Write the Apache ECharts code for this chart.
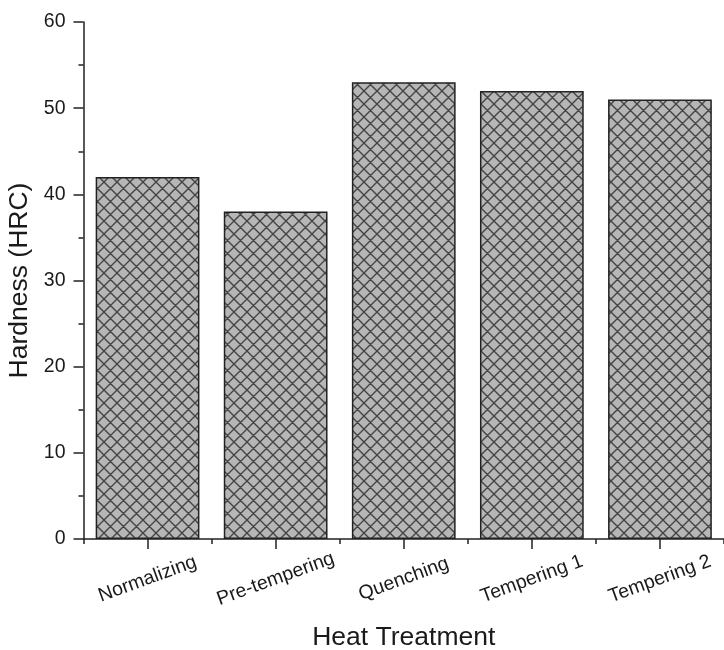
<!DOCTYPE html>
<html>
<head>
<meta charset="utf-8">
<script src="https://cdn.jsdelivr.net/npm/echarts@6/dist/echarts.min.js"></script>
<style>html,body{margin:0;padding:0;background:#fff}#c{width:724px;height:650px}</style>
</head>
<body>
<div id="c"></div>
<script>
const categories = ['Normalizing', 'Pre-tempering', 'Quenching', 'Tempering 1', 'Tempering 2'];
const hardness = [42, 38, 53, 52, 51];
const yTicks = { min: 0, max: 60, interval: 10 };

function makePattern() {
  const s = 13;
  const c = document.createElement('canvas');
  c.width = s; c.height = s;
  const g = c.getContext('2d');
  g.fillStyle = '#b6b6b6';
  g.fillRect(0, 0, s, s);
  g.strokeStyle = '#444';
  g.lineWidth = 1.4;
  g.beginPath();
  for (const o of [-s, 0, s]) {
    g.moveTo(o - 2, -2); g.lineTo(o + s + 2, s + 2);
    g.moveTo(o + s + 2, -2); g.lineTo(o - 2, s + 2);
  }
  g.stroke();
  return c;
}

const axisColor = '#222';
const font = 'Liberation Sans, Arial, sans-serif';
const chart = echarts.init(document.getElementById('c'));
chart.setOption({
  animation: false,
  backgroundColor: '#fff',
  textStyle: { fontFamily: font },
  grid: { left: 83.5, right: 0, top: 22, bottom: 111, containLabel: false, outerBoundsMode: 'none' },
  xAxis: [{
    type: 'category',
    data: categories,
    position: 'bottom',
    name: 'Heat Treatment',
    nameLocation: 'middle',
    nameGap: 85,
    nameTextStyle: { fontSize: 26.5, color: '#1a1a1a', fontFamily: font },
    axisLine: { show: true, lineStyle: { color: axisColor, width: 1.5 } },
    axisTick: { show: true, alignWithLabel: true, length: 10, lineStyle: { color: axisColor, width: 1.5 } },
    axisLabel: {
      rotate: 20, align: 'center', verticalAlign: 'middle', margin: 40,
      fontSize: 19.5, color: '#1a1a1a', fontFamily: font
    },
    splitLine: { show: false }
  }, {
    type: 'category',
    data: categories,
    position: 'top',
    offset: -517,
    axisLine: { show: false },
    axisTick: { show: true, inside: true, alignWithLabel: false, length: 5, lineStyle: { color: axisColor, width: 1.5 } },
    axisLabel: { show: false },
    splitLine: { show: false }
  }],
  yAxis: {
    type: 'value',
    min: yTicks.min, max: yTicks.max, interval: yTicks.interval,
    name: 'Hardness (HRC)',
    nameLocation: 'middle',
    nameGap: 44,
    nameTextStyle: { fontSize: 26.5, color: '#1a1a1a', fontFamily: font },
    axisLine: { show: true, lineStyle: { color: axisColor, width: 1.5 } },
    axisTick: { show: true, length: 10, lineStyle: { color: axisColor, width: 1.5 } },
    minorTick: { show: true, splitNumber: 2, length: 5, lineStyle: { color: axisColor, width: 1.5 } },
    axisLabel: { fontSize: 19.5, color: '#1a1a1a', margin: 18, fontFamily: font },
    splitLine: { show: false }
  },
  series: [{
    type: 'bar',
    data: hardness,
    xAxisIndex: 0,
    barCategoryGap: '19%',
    itemStyle: {
      color: { image: makePattern(), repeat: 'repeat' },
      borderColor: '#222',
      borderWidth: 1.5
    }
  }]
});
</script>
</body>
</html>
